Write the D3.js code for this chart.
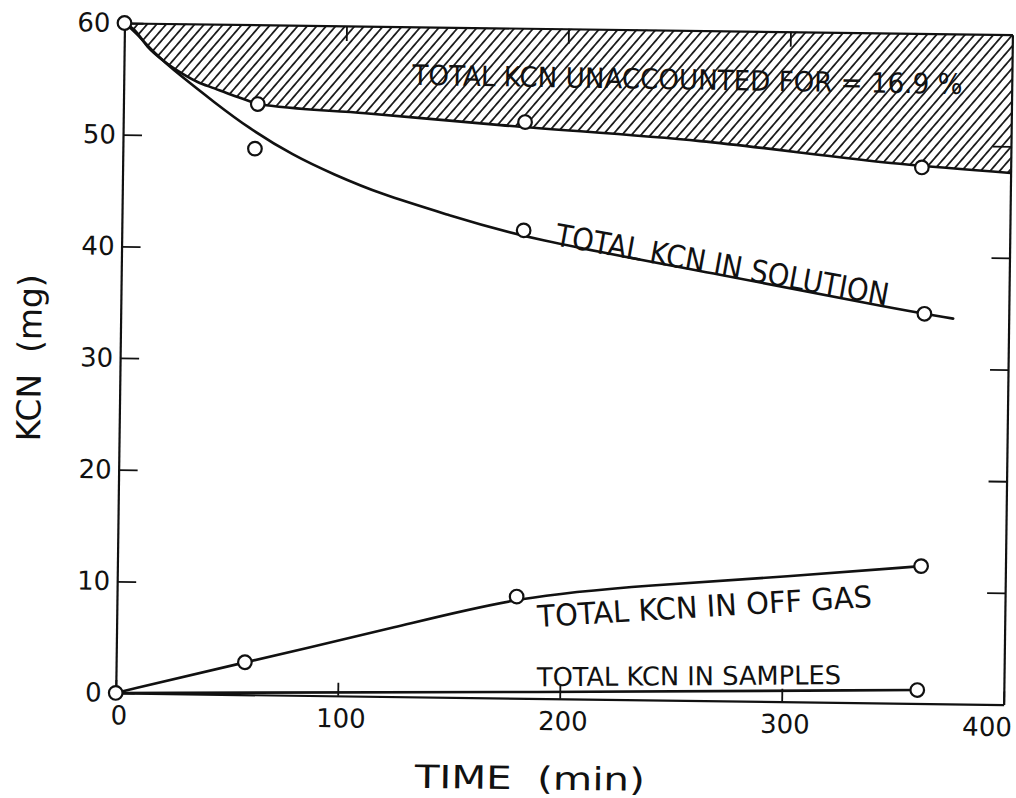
<!DOCTYPE html>
<html><head><meta charset="utf-8">
<script src="https://cdn.jsdelivr.net/npm/d3@7"></script>
<style>
html,body{margin:0;padding:0;background:#fff;}
svg{display:block;}
text{font-family:"DejaVu Sans",Arial,sans-serif;fill:#111;}
</style></head><body>
<svg id="chart" width="1016" height="798"></svg>
<script>
// ---- data ----
const timeTicks = [0, 100, 200, 300, 400];
const kcnTicks = [0, 10, 20, 30, 40, 50, 60];
const innerTimeTicks = [100, 200, 300];
const innerKcnTicks = [10, 20, 30, 40, 50];

// measured points (open circles) [time min, KCN mg]
const totalPoints = [[0, 60]];
const accountedPoints = [[60.5, 52.9], [181, 51.6], [360, 48.0]];
const solutionPoints = [[59.5, 48.9], [181, 41.9], [362, 34.9]];
const offGasPoints = [[0, 0], [58, 2.9], [180, 9.1], [362, 12.3]];
const samplesPoints = [[361, 1.2]];

// hand-drawn smooth curves (nodes)
const accountedCurve = [[0, 60], [4.5, 59.4], [10.6, 57.9], [18.2, 56.6], [25.8, 55.6], [33.3, 54.8], [40.9, 54.25], [48.5, 53.7], [55.9, 53.2], [60.5, 52.9], [109, 52.2], [170, 51.3], [260, 50.1], [350, 48.3], [400, 47.6]];
const solutionCurve = [[0, 60], [5, 59.2], [13.7, 57.3], [25.8, 55.3], [41, 53.0], [56, 50.8], [77, 48.3], [95, 46.7], [116, 45.0], [147, 43.2], [181, 41.2], [272, 38.1], [349, 35.3], [375, 34.5]];
const offGasCurve = [[0, 0], [58, 2.9], [128, 6.3], [180, 9.1], [241, 10.3], [302, 11.2], [362, 12.3]];
const samplesCurve = [[0, 0], [172, 0.5], [361, 1.2]];

const labelTexts = ["TOTAL KCN UNACCOUNTED FOR = 16.9 %", "TOTAL KCN IN SOLUTION", "TOTAL KCN IN OFF GAS", "TOTAL KCN IN SAMPLES"];
const xTitle = "TIME\u00A0\u00A0(min)";
const yTitle = "KCN\u00A0\u00A0(mg)";

// ---- layout ----
const W = 888, H = 670;
const svg = d3.select("#chart");
const x = d3.scaleLinear().domain([0, 400]).range([0, W]);
const y = d3.scaleLinear().domain([0, 60]).range([H, 0]);

const defs = svg.append("defs");
const pat = defs.append("pattern").attr("id", "hatch")
  .attr("patternUnits", "userSpaceOnUse").attr("width", 7.2).attr("height", 10)
  .attr("patternTransform", "rotate(40)");
pat.append("line").attr("x1", 3.6).attr("x2", 3.6).attr("y1", -1).attr("y2", 11)
  .attr("stroke", "#111").attr("stroke-width", 1.7);

const g = svg.append("g").attr("transform", "translate(124.5,23) rotate(0.75)");

// hatched "unaccounted" region
const area = d3.area().x(d => x(d[0])).y0(d => y(d[1])).y1(y(60)).curve(d3.curveMonotoneX);
g.append("path").datum(accountedCurve).attr("d", area).attr("fill", "url(#hatch)");

// axes
const fmt = d3.format("d");
const yAx = g.append("g").call(d3.axisLeft(y).tickValues(kcnTicks).tickSize(-19).tickSizeOuter(0).tickPadding(7).tickFormat(fmt));
yAx.selectAll("text").filter(d => d === 0 || d === 60).attr("x", -14);
const rAx = g.append("g").attr("transform", `translate(${W},0)`)
  .call(d3.axisLeft(y).tickValues(innerKcnTicks).tickSize(18).tickSizeOuter(0).tickFormat(""));
const bAx = g.append("g").attr("transform", `translate(0,${H})`)
  .call(d3.axisBottom(x).tickValues(timeTicks).tickSize(-13).tickSizeOuter(0).tickPadding(13).tickFormat(fmt));
bAx.selectAll("text").attr("dx", 3);
bAx.selectAll("text").filter(d => d === 400).attr("text-anchor", "end").attr("dx", 8);
const tAx = g.append("g").call(d3.axisTop(x).tickValues(innerTimeTicks).tickSize(-15).tickSizeOuter(0).tickFormat(""));

[yAx, rAx, bAx, tAx].forEach(a => {
  a.select(".domain").attr("stroke", "#111").attr("stroke-width", 2.2);
  a.selectAll(".tick line").attr("stroke", "#111").attr("stroke-width", 1.8);
  a.selectAll("text").attr("font-size", 26).attr("fill", "#111")
    .style("font-family", '"DejaVu Sans",Arial,sans-serif');
});

// curves
const lineM = d3.line().x(d => x(d[0])).y(d => y(d[1])).curve(d3.curveMonotoneX);
const lineB = d3.line().x(d => x(d[0])).y(d => y(d[1])).curve(d3.curveBasis);
[[accountedCurve, lineM], [solutionCurve, lineB], [offGasCurve, lineB], [samplesCurve, lineB]].forEach(([c, ln]) => {
  g.append("path").datum(c).attr("d", ln).attr("fill", "none")
    .attr("stroke", "#111").attr("stroke-width", 2.6).attr("stroke-linecap", "round");
});

// points
[totalPoints, accountedPoints, solutionPoints, offGasPoints, samplesPoints].forEach(pts => {
  g.selectAll(null).data(pts).enter().append("circle")
    .attr("cx", d => x(d[0])).attr("cy", d => y(d[1])).attr("r", 6.8)
    .attr("fill", "#fff").attr("stroke", "#111").attr("stroke-width", 2.2);
});

// annotations
const ann = [
  {t: labelTexts[0], px: 130, py: 54.8, rot: 0.2, len: 550, fs: 28},
  {t: labelTexts[1], px: 194.8, py: 40.6, rot: 9.55, len: 338, fs: 31},
  {t: labelTexts[2], px: 189.8, py: 6.4, rot: -4.18, len: 335, fs: 30},
  {t: labelTexts[3], px: 189.7, py: 1.1, rot: -1.13, len: 304, fs: 26}
];
ann.forEach(a => {
  g.append("text")
    .attr("transform", `translate(${x(a.px)},${y(a.py)}) rotate(${a.rot})`)
    .attr("font-size", a.fs).attr("textLength", a.len).attr("lengthAdjust", "spacingAndGlyphs")
    .text(a.t);
});

// axis titles
g.append("text").attr("transform", `translate(${x(187)},${H + 91})`)
  .attr("text-anchor", "middle").attr("font-size", 32)
  .attr("textLength", 230).attr("lengthAdjust", "spacingAndGlyphs")
  .text(xTitle);
g.append("text").attr("transform", `translate(-79,${y(30) + 1}) rotate(-90)`)
  .attr("text-anchor", "middle").attr("font-size", 33)
  .attr("textLength", 167).attr("lengthAdjust", "spacingAndGlyphs")
  .text(yTitle);
</script>
</body></html>
